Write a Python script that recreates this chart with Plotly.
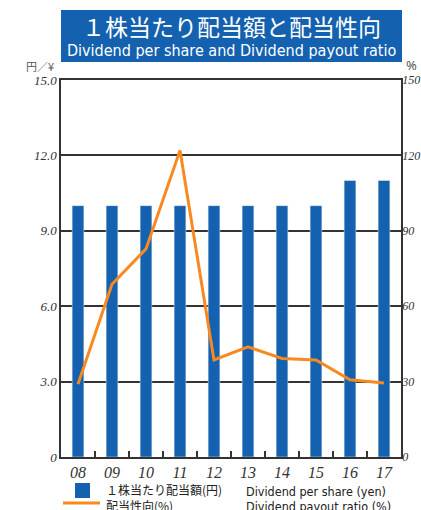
import plotly.graph_objects as go

# Fiscal years and series
years = ["08", "09", "10", "11", "12", "13", "14", "15", "16", "17"]
dividend_per_share = [10.0, 10.0, 10.0, 10.0, 10.0, 10.0, 10.0, 10.0, 11.0, 11.0]
payout_ratio = [29.0, 68.7, 82.8, 122.0, 38.6, 43.8, 39.2, 38.6, 30.7, 29.4]

left_ticks = [0, 3, 6, 9, 12, 15]
left_tick_text = ["0", "3.0", "6.0", "9.0", "12.0", "15.0"]
right_ticks = [0, 30, 60, 90, 120, 150]
right_tick_text = ["0", "30", "60", "90", "120", "150"]

title_jp = "１株当たり配当額と配当性向"
title_en = "Dividend per share and Dividend payout ratio"
legend_bar_jp = "１株当たり配当額(円)"
legend_bar_en = "Dividend per share (yen)"
legend_line_jp = "配当性向(%)"
legend_line_en = "Dividend payout ratio (%)"

BLUE = "#1461AF"
ORANGE = "#F7891F"
W, H = 421, 510
ML, MR, MT, MB = 61, 20, 80, 53
PW, PH = W - ML - MR, H - MT - MB


def px(x):
    return (x - ML) / PW


def py(y):
    return 1 - (y - MT) / PH


fig = go.Figure()
fig.add_trace(go.Bar(
    x=years, y=dividend_per_share, marker_color=BLUE, width=0.345,
    name=legend_bar_jp, yaxis="y",
))
fig.add_trace(go.Scatter(
    x=years, y=payout_ratio, mode="lines", line=dict(color=ORANGE, width=3),
    name=legend_line_jp, yaxis="y2",
))

shapes = [
    # title banner
    dict(type="rect", xref="paper", yref="paper", x0=px(61), x1=px(402),
         y0=py(62), y1=py(10), fillcolor=BLUE, line_width=0, layer="above"),
    # legend keys
    dict(type="rect", xref="paper", yref="paper", x0=px(75), x1=px(90),
         y0=py(498), y1=py(483), fillcolor=BLUE, line_width=0),
    dict(type="line", xref="paper", yref="paper", x0=px(63), x1=px(100),
         y0=py(503), y1=py(503), line=dict(color=ORANGE, width=3)),
]

annotations = [
    dict(text=title_jp, x=px(231), y=py(26), xref="paper", yref="paper",
         showarrow=False, font=dict(family="Noto Sans CJK JP", size=23, color="white"),
         xanchor="center", yanchor="middle"),
    dict(text=title_en, x=px(231), y=py(50), xref="paper", yref="paper",
         showarrow=False, font=dict(family="DejaVu Sans Condensed", size=16, color="white"),
         xanchor="center", yanchor="middle"),
    dict(text="円／¥", x=px(56), y=py(66), xref="paper", yref="paper",
         showarrow=False, font=dict(family="Noto Sans CJK JP", size=11, color="#555555"),
         xanchor="right", yanchor="middle"),
    dict(text="%", x=px(404), y=py(65), xref="paper", yref="paper",
         showarrow=False, font=dict(family="Noto Sans", size=13, color="#555555"),
         xanchor="left", yanchor="middle"),
    dict(text=legend_bar_jp, x=px(104), y=py(490), xref="paper", yref="paper",
         showarrow=False, font=dict(family="Noto Sans CJK JP", size=12, color="#222222"),
         xanchor="left", yanchor="middle"),
    dict(text=legend_bar_en, x=px(244), y=py(491), xref="paper", yref="paper",
         showarrow=False, font=dict(family="DejaVu Sans Condensed", size=12.5, color="#222222"),
         xanchor="left", yanchor="middle"),
    dict(text=legend_line_jp, x=px(104), y=py(505), xref="paper", yref="paper",
         showarrow=False, font=dict(family="Noto Sans CJK JP", size=12, color="#222222"),
         xanchor="left", yanchor="middle"),
    dict(text=legend_line_en, x=px(244), y=py(506), xref="paper", yref="paper",
         showarrow=False, font=dict(family="DejaVu Sans Condensed", size=12.5, color="#222222"),
         xanchor="left", yanchor="middle"),
]

fig.update_layout(
    width=W, height=H,
    margin=dict(l=ML, r=MR, t=MT, b=MB, pad=0, autoexpand=False),
    paper_bgcolor="white", plot_bgcolor="white",
    showlegend=False,
    shapes=shapes, annotations=annotations,
    xaxis=dict(
        type="category", showline=True, linecolor="#333333", linewidth=1.5,
        mirror=True, ticks="inside", tickson="boundaries", ticklen=6,
        tickcolor="#333333", tickwidth=1.5, showgrid=False, automargin=False,
        tickfont=dict(family="Liberation Serif", size=16, color="#333333", style="italic"),
        tickangle=0, ticklabelstandoff=0,
    ),
    yaxis=dict(
        range=[0, 15], tickvals=left_ticks, ticktext=left_tick_text,
        showgrid=True, gridcolor="#333333", gridwidth=1.5, automargin=False,
        showline=True, linecolor="#333333", linewidth=1.5,
        zeroline=False, ticks="",
        tickfont=dict(family="Liberation Serif", size=13, color="#333333", style="italic"),
    ),
    yaxis2=dict(
        range=[0, 150], tickvals=right_ticks, ticktext=right_tick_text,
        overlaying="y", side="right", showgrid=False, automargin=False,
        showline=True, linecolor="#333333", linewidth=1.5,
        zeroline=False, ticks="", ticklabelstandoff=-3,
        tickfont=dict(family="Liberation Serif", size=12, color="#333333", style="italic"),
    ),
)

fig.write_html("out.html")
